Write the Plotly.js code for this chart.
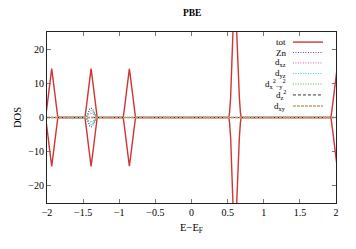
<!DOCTYPE html>
<html><head><meta charset="utf-8">
<script src="https://cdn.plot.ly/plotly-3.0.1.min.js"></script>
<style>html,body{margin:0;padding:0;background:#fff}#plot{width:356px;height:249px}</style>
</head><body><div id="plot"></div>
<script>
// energy grid for total DOS (E - E_F, eV)
const totX = [
  -2.02,-2.01,-1.995,-1.975,-1.955,-1.935,-1.915,-1.895,-1.875,-1.86,-1.85,
  -1.475,-1.465,-1.45,-1.43,-1.41,-1.39,-1.37,-1.35,-1.33,-1.315,-1.305,
  -0.945,-0.935,-0.92,-0.90,-0.88,-0.86,-0.84,-0.82,-0.80,-0.785,-0.775,
  0.517,0.527,0.542,0.562,0.582,0.602,0.622,0.642,0.662,0.677,0.687,
  1.93,1.94,1.955,1.975,1.995,2.015,2.035
];
const totUp = [
  0,1.2,4,7.5,11,14.3,11,7.5,4,1.2,0,
  0,1.2,4,7.5,11,14.3,11,7.5,4,1.2,0,
  0,1.2,4,7.5,11,14.2,11,7.5,4,1.2,0,
  0,1.5,6,14,27,42,27,14,6,1.5,0,
  0,1.2,4,7.5,11,14.3,11
];
const totDn = [
  0,-1.2,-4,-7.5,-11,-14.3,-11,-7.5,-4,-1.2,0,
  0,-1.2,-4,-7.5,-11,-14.3,-11,-7.5,-4,-1.2,0,
  0,-1.2,-4,-7.5,-11,-14.2,-11,-7.5,-4,-1.2,0,
  0,-1.5,-6,-14,-27,-42,-27,-14,-6,-1.5,0,
  0,-1.2,-4,-7.5,-11,-14.3,-11
];
// energy grid for Zn projections
const orbX = [-2.0,-1.475,-1.465,-1.45,-1.43,-1.41,-1.39,-1.37,-1.35,-1.33,-1.315,-1.305,2.0];
const znUp   = [0,0,0,0.3,1.6,2.5,2.8,2.5,1.6,0.3,0,0,0];
const znDn   = [0,0,0,-0.3,-1.6,-2.5,-2.8,-2.5,-1.6,-0.3,0,0,0];
const dxzUp  = [0,0,0,0.2,0.8,1.1,1.2,1.1,0.8,0.2,0,0,0];
const dxzDn  = [0,0,0,-0.2,-0.8,-1.1,-1.2,-1.1,-0.8,-0.2,0,0,0];
const dyzUp  = [0,0,0,0.2,0.9,1.3,1.4,1.3,0.9,0.2,0,0,0];
const dyzDn  = [0,0,0,-0.2,-0.9,-1.3,-1.4,-1.3,-0.9,-0.2,0,0,0];
const dx2Up  = [0,0,0,0.5,1.5,2.0,2.1,2.0,1.5,0.5,0,0,0];
const dx2Dn  = [0,0,0,-0.5,-1.5,-2.0,-2.1,-2.0,-1.5,-0.5,0,0,0];
const dz2Up  = [0,0,0,0,0.1,0.2,0.2,0.2,0.1,0,0,0,0];
const dz2Dn  = [0,0,0,0,-0.1,-0.2,-0.2,-0.2,-0.1,0,0,0,0];
const dxyUp  = [0,0,0,0,0.1,0.15,0.2,0.15,0.1,0,0,0,0];
const dxyDn  = [0,0,0,0,-0.1,-0.15,-0.2,-0.15,-0.1,0,0,0,0];

const legendNames = ['tot','Zn','d<sub>xz</sub>','d<sub>yz</sub>',
  'd<sub>x</sub><sup>2</sup><sub>−y</sub><sup>2</sup>','d<sub>z</sub><sup>2</sup>','d<sub>xy</sub>'];
const xTicks = [-2,-1.5,-1,-0.5,0,0.5,1,1.5,2];
const xTickText = ['−2','−1.5','−1','−0.5','0','0.5','1','1.5','2'];
const yTicks = [-20,-10,0,10,20];

const styles = [
  {color:'#d03434', dash:'solid', width:1.4},
  {color:'#4a3fc0', dash:'1px,1.5px', width:1.1},
  {color:'#e050e0', dash:'1px,1.5px', width:1},
  {color:'#30d0d0', dash:'1px,1.5px', width:1},
  {color:'#40c040', dash:'1px,1.5px', width:1.1},
  {color:'#303040', dash:'3px,2px', width:1},
  {color:'#c0a070', dash:'3px,1px', width:1.5}
];
const series = [
  [totX, totUp, totDn],
  [orbX, znUp, znDn],
  [orbX, dxzUp, dxzDn],
  [orbX, dyzUp, dyzDn],
  [orbX, dx2Up, dx2Dn],
  [orbX, dz2Up, dz2Dn],
  [orbX, dxyUp, dxyDn]
];
const traces = [];
series.forEach((s,i)=>{
  [s[1], s[2]].forEach(y=>{
    traces.push({x:s[0], y:y, type:'scatter', mode:'lines', showlegend:false,
      line:{color:styles[i].color, dash:styles[i].dash, width:styles[i].width}, hoverinfo:'skip'});
  });
});

const font = '"Liberation Serif", "DejaVu Serif", serif';
const annotations = [];
const shapes = [];
const rowY = [0.941,0.880,0.819,0.757,0.696,0.632,0.567];
legendNames.forEach((n,i)=>{
  annotations.push({xref:'paper', yref:'paper', x:0.834, y:rowY[i], xanchor:'right', yanchor:'middle',
    text:n, showarrow:false, font:{family:font, size:9, color:'#000'}});
  shapes.push({type:'line', xref:'paper', yref:'paper', x0:0.851, x1:0.955, y0:rowY[i], y1:rowY[i],
    line:{color:styles[i].color, dash:styles[i].dash, width:styles[i].width}});
});

const layout = {
  width:356, height:249,
  margin:{l:47, r:20, t:32, b:46},
  paper_bgcolor:'#fff', plot_bgcolor:'#fff',
  font:{family:font, size:10, color:'#000'},
  title:{text:'<b>PBE</b>', x:0.54, xanchor:'center', y:0.95, yanchor:'middle', font:{family:font, size:9.5}},
  xaxis:{range:[-2,2], tickvals:xTicks, ticktext:xTickText, ticks:'inside', ticklen:4, tickcolor:'#777',
    showline:true, linecolor:'#222', linewidth:1, mirror:'ticks', showgrid:false, zeroline:false,
    title:{text:'E−E<sub>F</sub>', standoff:6, font:{family:font, size:10.5}}},
  yaxis:{range:[-25,25], tickvals:yTicks, ticks:'inside', ticklen:4, tickcolor:'#777',
    showline:true, linecolor:'#222', linewidth:1, mirror:'ticks', showgrid:false, zeroline:false,
    title:{text:'DOS', standoff:4, font:{family:font, size:10.5}}},
  annotations:annotations, shapes:shapes
};
Plotly.newPlot('plot', traces, layout, {staticPlot:true, displayModeBar:false});
</script></body></html>
